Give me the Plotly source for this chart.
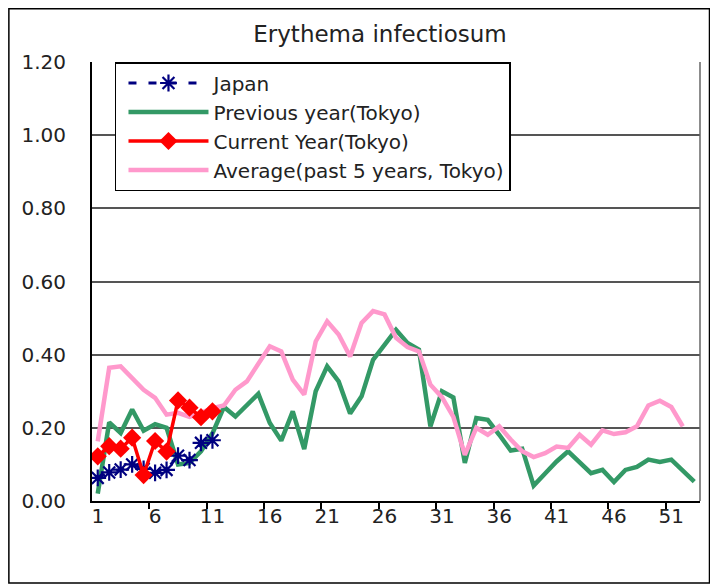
import plotly.graph_objects as go

weeks_all = list(range(1, 54))
tick_weeks = [1, 6, 11, 16, 21, 26, 31, 36, 41, 46, 51]
y_ticks = [0.0, 0.2, 0.4, 0.6, 0.8, 1.0, 1.2]

japan = [0.063, 0.078, 0.086, 0.100, 0.088, 0.077, 0.085, 0.124, 0.112, 0.159, 0.166]

current_year = [0.122, 0.150, 0.143, 0.173, 0.071, 0.164, 0.135, 0.275, 0.255, 0.229, 0.245]

previous_year = [0.020, 0.215, 0.186, 0.250, 0.192, 0.210, 0.200, 0.100, 0.104, 0.136,
                 0.185, 0.257, 0.231, 0.263, 0.293, 0.213, 0.165, 0.245, 0.142, 0.300,
                 0.368, 0.327, 0.239, 0.286, 0.386, 0.427, 0.468, 0.432, 0.414, 0.204,
                 0.300, 0.283, 0.104, 0.227, 0.222, 0.181, 0.138, 0.143, 0.042, 0.075,
                 0.108, 0.136, 0.105, 0.076, 0.085, 0.052, 0.085, 0.093, 0.113, 0.107,
                 0.113, 0.084, 0.053]

average_5y = [0.163, 0.364, 0.368, 0.336, 0.304, 0.282, 0.236, 0.241, 0.230, 0.241,
              0.254, 0.261, 0.304, 0.327, 0.373, 0.423, 0.409, 0.332, 0.291, 0.436,
              0.491, 0.455, 0.395, 0.487, 0.519, 0.510, 0.446, 0.421, 0.409, 0.318,
              0.284, 0.230, 0.126, 0.200, 0.181, 0.204, 0.168, 0.136, 0.120, 0.131,
              0.149, 0.145, 0.181, 0.154, 0.193, 0.183, 0.188, 0.204, 0.261, 0.274,
              0.257, 0.204]

FONT = "DejaVu Sans"
# page body has an 8px margin, so the figure is drawn 8px in from the window corner
OFF = 8
W, H = 718 - OFF, 585 - OFF
ML, MR, MT, MB = 92 - OFF, 17.5, 62 - OFF, 83.5
PW, PH = W - ML - MR, H - MT - MB


def px_x(x):
    return (x - OFF - ML) / PW


def px_y(y):
    return (H - MB - (y - OFF)) / PH


fig = go.Figure()

fig.add_trace(go.Scatter(
    x=weeks_all[:len(previous_year)], y=previous_year, name="Previous year(Tokyo)",
    mode="lines", line=dict(color="#339966", width=4.5), legendrank=2))
fig.add_trace(go.Scatter(
    x=weeks_all[:len(average_5y)], y=average_5y, name="Average(past 5 years, Tokyo)",
    mode="lines", line=dict(color="#FF99CC", width=4.5), legendrank=4))
fig.add_trace(go.Scatter(
    x=weeks_all[:len(japan)], y=japan, name="Japan",
    mode="lines+markers", line=dict(color="#000080", width=3, dash="8px,12px"),
    marker=dict(symbol="asterisk-open", size=14, line=dict(color="#000080", width=2.2)),
    legendrank=1))
fig.add_trace(go.Scatter(
    x=weeks_all[:len(current_year)], y=current_year, name="Current Year(Tokyo)",
    mode="lines+markers", line=dict(color="#FF0000", width=3.5),
    marker=dict(symbol="diamond", size=14, color="#FF0000"), legendrank=3))

# invisible trace on overlay axis for between-category tick marks
fig.add_trace(go.Scatter(x=[1], y=[0], xaxis="x2", mode="markers",
                         marker=dict(opacity=0), showlegend=False, hoverinfo="skip"))

fig.update_layout(
    width=W, height=H,
    margin=dict(l=ML, r=MR, t=MT, b=MB),
    paper_bgcolor="white", plot_bgcolor="white",
    font=dict(family=FONT, size=20, color="#222"),
    title=dict(text="Erythema infectiosum", x=(380 - OFF) / W, xanchor="center",
               y=1 - (34 - OFF) / H, yanchor="middle",
               font=dict(size=23, family=FONT, color="#222")),
    xaxis=dict(range=[0.5, 53.5], tickvals=tick_weeks, ticktext=[str(t) for t in tick_weeks],
               ticks="", ticklen=0, showgrid=False, zeroline=False, showline=True,
               linecolor="black", linewidth=2, ticklabelstandoff=-4,
               tickfont=dict(size=20)),
    xaxis2=dict(range=[0.5, 53.5], overlaying="x", side="bottom",
                tickvals=[5.5 + 5 * i for i in range(10)], ticks="outside", ticklen=7,
                tickwidth=1.5, tickcolor="black", showticklabels=False, showgrid=False,
                zeroline=False, showline=False),
    yaxis=dict(range=[0, 1.2], tickvals=y_ticks, ticktext=["%.2f" % v for v in y_ticks],
               ticks="", showgrid=True, gridcolor="#555555", gridwidth=1.5,
               zeroline=False, showline=True, linecolor="black", linewidth=2,
               ticklabelstandoff=20, tickfont=dict(size=20)),
    legend=dict(x=px_x(115), y=1.0, xanchor="left", yanchor="top",
                bgcolor="white", bordercolor="black", borderwidth=1.5,
                font=dict(size=20, family=FONT, color="#222"),
                itemwidth=80, indentation=7, tracegroupgap=0, traceorder="normal"),
    showlegend=True,
    shapes=[
        dict(type="line", xref="paper", yref="paper", x0=1, x1=1, y0=0, y1=1,
             line=dict(color="#666666", width=1.5)),
        dict(type="rect", xref="paper", yref="paper",
             x0=px_x(8.8), x1=px_x(710), y0=px_y(583.5), y1=px_y(8.8),
             line=dict(color="black", width=1.5), layer="below"),
    ],
)

fig.write_html("out.html")
